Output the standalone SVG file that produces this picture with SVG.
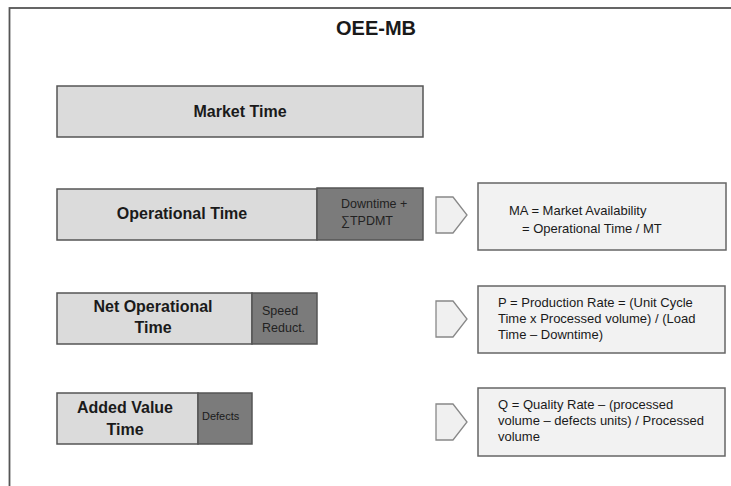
<svg xmlns="http://www.w3.org/2000/svg" width="731" height="486" viewBox="0 0 731 486">
<style>
.frame{fill:#fff;stroke:#555;stroke-width:1.8}
.lt{fill:#dbdbdb;stroke:#555;stroke-width:1.5}
.dk{fill:#7b7b7b;stroke:#555;stroke-width:1.5}
.bx{fill:#f2f2f2;stroke:#666;stroke-width:1.5}
.chev{fill:#f0f0f0;stroke:#888;stroke-width:1.3}
.t{font-family:"Liberation Sans",Arial,sans-serif;fill:#1a1a1a}
.h{font-weight:bold;font-size:16px;text-anchor:middle}
.s{font-size:12.5px;fill:#222}
.f{font-size:13px}
</style>
<rect class="frame" x="9.5" y="8" width="740" height="500"/>
<text class="t" x="376" y="35" font-size="20" font-weight="bold" text-anchor="middle" fill="#333">OEE-MB</text>
<g id="market-time">
<rect class="lt" x="57" y="86" width="366" height="51"/>
<text class="t h" x="240" y="117">Market Time</text>
</g>
<g id="operational-time">
<rect class="lt" x="57" y="189" width="260" height="51"/>
<rect class="dk" x="317" y="188" width="106" height="52"/>
<text class="t h" x="182" y="219">Operational Time</text>
<text class="t s" x="341" y="208">Downtime +</text>
<text class="t s" x="341" y="225">∑TPDMT</text>
</g>
<g id="net-operational-time">
<rect class="lt" x="57" y="293" width="195" height="51"/>
<rect class="dk" x="252" y="293" width="65" height="51"/>
<text class="t h" x="153" y="312">Net Operational</text>
<text class="t h" x="153" y="333">Time</text>
<text class="t s" x="262" y="315">Speed</text>
<text class="t s" x="262" y="332">Reduct.</text>
</g>
<g id="added-value-time">
<rect class="lt" x="57" y="393" width="141" height="51"/>
<rect class="dk" x="198" y="393" width="54" height="51"/>
<text class="t h" x="125" y="413">Added Value</text>
<text class="t h" x="125" y="435">Time</text>
<text class="t" x="202" y="420" font-size="11" fill="#222">Defects</text>
</g>
<g id="connectors">
<path class="chev" d="M436,197 H453 L467,215 L453,233 H436 Z"/>
<path class="chev" d="M436,301 H453 L467,319 L453,337 H436 Z"/>
<path class="chev" d="M436,404 H453 L467,422 L453,440 H436 Z"/>
</g>
<g id="ma-box">
<rect class="bx" x="478" y="183" width="248" height="67"/>
<text class="t f" x="509" y="215">MA = Market Availability</text>
<text class="t f" x="522" y="233">= Operational Time / MT</text>
</g>
<g id="p-box">
<rect class="bx" x="478" y="286" width="247" height="67"/>
<text class="t f" x="498" y="307">P = Production Rate = (Unit Cycle</text>
<text class="t f" x="498" y="323">Time x Processed volume) / (Load</text>
<text class="t f" x="498" y="339">Time – Downtime)</text>
</g>
<g id="q-box">
<rect class="bx" x="478" y="388" width="247" height="68"/>
<text class="t f" x="498" y="409">Q = Quality Rate – (processed</text>
<text class="t f" x="498" y="425">volume  – defects units) / Processed</text>
<text class="t f" x="498" y="441">volume</text>
</g>
</svg>
